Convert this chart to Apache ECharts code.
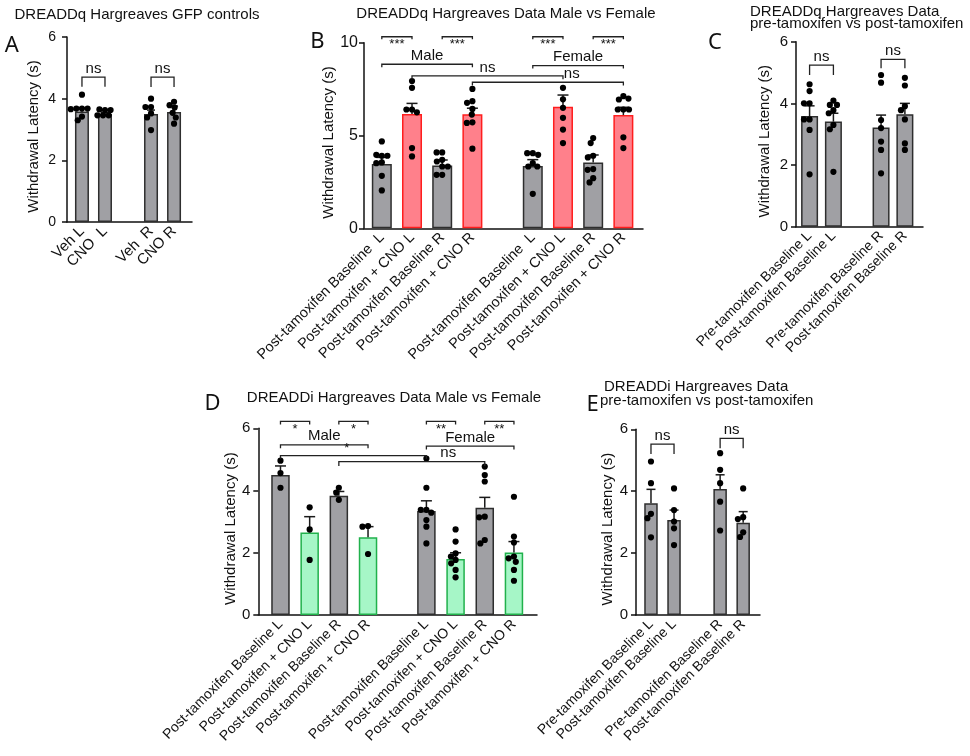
<!DOCTYPE html>
<html><head><meta charset="utf-8">
<script src="https://cdn.jsdelivr.net/npm/echarts@6/dist/echarts.min.js"></script>
<style>html,body{margin:0;padding:0;background:#fff}#c{width:970px;height:756px}</style>
</head><body><div id="c"></div>
<script>
// ================= DATA =================
// Panel A – DREADDq GFP controls
const aCats   = ['Veh L', 'CNO  L', '', 'Veh  R', 'CNO R'];
const aTreat  = ['Baseline', 'Baseline', '', 'Baseline', 'Baseline'];
const aMeans  = [3.58, 3.50, null, 3.50, 3.57];
const aSem    = [0.12, 0.05, null, 0.13, 0.19];
const aPoints = [
  [4.13, 3.68, 3.68, 3.68, 3.66, 3.42, 3.30],
  [3.63, 3.65, 3.63, 3.46, 3.46, 3.46],
  [],
  [4.00, 3.73, 3.73, 3.52, 3.39, 2.98],
  [3.90, 3.79, 3.71, 3.54, 3.39, 3.19]
];
const aBrackets = [ // [from, to, level, drop, text, place, labelX]
  [0, 1, 4.70, 0.31, 'ns', 'above'],
  [3, 4, 4.70, 0.32, 'ns', 'above']
];

// Panel B – DREADDq male vs female
const bCats  = ['Post-tamoxifen Baseline  L', 'Post-tamoxifen + CNO L', 'Post-tamoxifen Baseline R', 'Post-tamoxifen + CNO R', '',
                'Post-tamoxifen Baseline  L', 'Post-tamoxifen + CNO L', 'Post-tamoxifen Baseline R', 'Post-tamoxifen + CNO R'];
const bTreat = ['Baseline', 'CNO', 'Baseline', 'CNO', '', 'Baseline', 'CNO', 'Baseline', 'CNO'];
const bMeans = [3.46, 6.16, 3.38, 6.14, null, 3.36, 6.55, 3.55, 6.10];
const bSem   = [0.36, 0.57, 0.30, 0.33, null, 0.34, 0.63, 0.40, 0.42];
const bPoints = [
  [4.68, 3.91, 3.96, 3.91, 3.55, 3.51, 2.83, 2.04],
  [7.93, 7.57, 6.40, 6.40, 6.25, 4.32, 3.87],
  [4.09, 4.09, 3.69, 3.60, 3.33, 3.33, 2.88, 2.88],
  [7.51, 6.85, 6.76, 6.43, 6.13, 5.71, 5.68, 4.29],
  [],
  [4.05, 4.05, 3.96, 3.51, 3.33, 3.33, 1.86],
  [7.57, 6.95, 6.49, 5.95, 5.32, 4.59],
  [4.86, 4.59, 3.91, 3.82, 3.19, 3.15, 2.70, 2.47],
  [7.12, 6.94, 6.99, 6.40, 6.40, 6.40, 4.90, 4.32]
];
const bBrackets = [
  [0, 1, 10.32, 0.14, '***', 'below'],
  [2, 3, 10.32, 0.14, '***', 'below'],
  [5, 6, 10.32, 0.14, '***', 'below'],
  [7, 8, 10.32, 0.14, '***', 'below'],
  [0, 3, 8.84, 0.16, 'Male', 'above'],
  [5, 8, 8.77, 0.16, 'Female', 'above'],
  [1, 6, 8.21, 0.18, 'ns', 'above'],
  [3, 8, 7.87, 0.18, 'ns', 'above', 6.29]
];

// Panel C – DREADDq pre vs post tamoxifen
const cCats  = ['Pre-tamoxifen Baseline L', 'Post-tamoxifen Baseline L', '', 'Pre-tamoxifen Baseline R', 'Post-tamoxifen Baseline R'];
const cTreat = ['Baseline', 'Baseline', '', 'Baseline', 'Baseline'];
const cMeans = [3.59, 3.41, null, 3.22, 3.65];
const cSem   = [0.33, 0.27, null, 0.40, 0.35];
const cPoints = [
  [4.62, 4.40, 4.00, 4.00, 3.48, 3.48, 3.14, 1.70],
  [4.09, 3.95, 3.95, 3.78, 3.68, 3.30, 3.16, 1.78],
  [],
  [4.92, 4.67, 3.46, 3.20, 2.76, 2.49, 1.73],
  [4.83, 4.58, 3.91, 3.78, 3.48, 2.70, 2.49]
];
const cBrackets = [
  [0, 1, 5.24, 0.32, 'ns', 'above'],
  [3, 4, 5.43, 0.29, 'ns', 'above']
];

// Panel D – DREADDi male vs female
const dCats  = ['Post-tamoxifen Baseline L', 'Post-tamoxifen + CNO L', 'Post-tamoxifen Baseline R', 'Post-tamoxifen + CNO R', '',
                'Post-tamoxifen Baseline L', 'Post-tamoxifen + CNO L', 'Post-tamoxifen Baseline R', 'Post-tamoxifen + CNO R'];
const dTreat = ['Baseline', 'CNO', 'Baseline', 'CNO', '', 'Baseline', 'CNO', 'Baseline', 'CNO'];
const dMeans = [4.50, 2.65, 3.83, 2.50, null, 3.34, 1.80, 3.45, 2.01];
const dSem   = [0.29, 0.51, 0.14, 0.34, null, 0.33, 0.20, 0.33, 0.35];
const dPoints = [
  [4.96, 4.56, 4.09],
  [3.46, 2.75, 1.77],
  [4.09, 3.93, 3.70],
  [2.86, 2.84, 1.96],
  [],
  [5.03, 4.09, 3.38, 3.38, 3.29, 3.05, 2.84, 2.30],
  [2.75, 2.36, 1.98, 1.88, 1.77, 1.66, 1.45, 1.21],
  [4.77, 4.50, 4.29, 3.16, 3.14, 2.41, 2.30],
  [3.80, 2.52, 2.33, 1.88, 1.82, 1.71, 1.45, 1.10]
];
const dBrackets = [
  [0, 1, 6.22, 0.10, '*', 'below'],
  [2, 3, 6.22, 0.10, '*', 'below'],
  [5, 6, 6.22, 0.10, '**', 'below'],
  [7, 8, 6.22, 0.10, '**', 'below'],
  [0, 3, 5.47, 0.11, 'Male', 'above'],
  [5, 8, 5.43, 0.11, 'Female', 'above'],
  [0, 5, 5.12, 0.10, '*', 'above', 2.27],
  [2, 7, 4.93, 0.14, 'ns', 'above', 5.75]
];

// Panel E – DREADDi pre vs post tamoxifen
const eCats  = ['Pre-tamoxifen Baseline L', 'Post-tamoxifen Baseline L', '', 'Pre-tamoxifen Baseline R', 'Post-tamoxifen Baseline R'];
const eTreat = ['Baseline', 'Baseline', '', 'Baseline', 'Baseline'];
const eMeans = [3.61, 3.07, null, 4.07, 2.98];
const eSem   = [0.45, 0.32, null, 0.46, 0.36];
const ePoints = [
  [4.96, 4.26, 3.27, 3.13, 2.51],
  [4.09, 3.39, 3.02, 2.80, 2.26],
  [],
  [5.23, 4.69, 4.26, 3.66, 2.73],
  [4.09, 3.16, 3.10, 2.67, 2.52]
];
const eBrackets = [
  [0, 1, 5.52, 0.32, 'ns', 'above'],
  [3, 4, 5.71, 0.32, 'ns', 'above']
];

const yName = 'Withdrawal Latency (s)';

// ================= STYLE / LAYOUT =================
const FONT = "'Liberation Sans', Arial, sans-serif";
const GREY  = {fill: '#a0a0a4', stroke: '#2e2e2e'};
const RED   = {fill: '#ff808b', stroke: '#ff1e1e'};
const GREEN = {fill: '#a6f6c7', stroke: '#21b14c'};

const panels = [
  {cats: aCats, treat: aTreat, means: aMeans, sems: aSem, points: aPoints, brackets: aBrackets,
   grid: {left: 67, top: 37, width: 125, height: 185}, xMin: -0.65, xMax: 4.78, yMax: 6, yInt: 2,
   barW: 14, capW: 8, labelSize: 15, tickSize: 14, tickMargin: 11, nameGap: 26,
   palette: {Baseline: GREY, CNO: GREY}},
  {cats: bCats, treat: bTreat, means: bMeans, sems: bSem, points: bPoints, brackets: bBrackets,
   grid: {left: 364, top: 42.7, width: 279, height: 185.6}, xMin: -0.59, xMax: 8.65, yMax: 10, yInt: 5,
   barW: 20, capW: 11, labelSize: 14.5, tickSize: 16, tickMargin: 6, nameGap: 28,
   palette: {Baseline: GREY, CNO: RED}},
  {cats: cCats, treat: cTreat, means: cMeans, sems: cSem, points: cPoints, brackets: cBrackets,
   grid: {left: 796, top: 41.7, width: 127, height: 185}, xMin: -0.57, xMax: 4.76, yMax: 6, yInt: 2,
   barW: 17, capW: 10, labelSize: 14, tickSize: 15, tickMargin: 8, nameGap: 24,
   palette: {Baseline: GREY, CNO: GREY}},
  {cats: dCats, treat: dTreat, means: dMeans, sems: dSem, points: dPoints, brackets: dBrackets,
   grid: {left: 258.3, top: 428.3, width: 278.7, height: 186.7}, xMin: -0.76, xMax: 8.79, yMax: 6, yInt: 2,
   barW: 18.5, capW: 11, labelSize: 14, tickSize: 15, tickMargin: 8, nameGap: 15,
   palette: {Baseline: GREY, CNO: GREEN}},
  {cats: eCats, treat: eTreat, means: eMeans, sems: eSem, points: ePoints, brackets: eBrackets,
   grid: {left: 636, top: 429.3, width: 124, height: 185.7}, xMin: -0.65, xMax: 4.73, yMax: 6, yInt: 2,
   barW: 13.5, capW: 9, labelSize: 14, tickSize: 15, tickMargin: 8, nameGap: 21,
   palette: {Baseline: GREY, CNO: GREY}}
];

// simple beeswarm in pixel space
function swarm(ys, D) {
  const placed = [], xs = [];
  ys.forEach((y, i) => {
    const cands = [0];
    placed.forEach(p => {
      const dy = Math.abs(p.y - y);
      if (dy < D) { const w = Math.sqrt(D * D - dy * dy); cands.push(p.dx - w, p.dx + w); }
    });
    cands.sort((a, b) => Math.abs(a) - Math.abs(b));
    let chosen = 0;
    for (const c of cands) {
      let ok = true;
      for (const p of placed) {
        const dx = c - p.dx, dy = y - p.y;
        if (dx * dx + dy * dy < D * D - 0.05) { ok = false; break; }
      }
      if (ok) { chosen = c; break; }
    }
    placed.push({dx: chosen, y});
    xs[i] = chosen;
  });
  return xs;
}

const grids = [], xAxes = [], yAxes = [], series = [];
panels.forEach((P, k) => {
  grids.push(Object.assign({containLabel: false}, P.grid));
  const idxs = P.cats.map((c, i) => c ? i : -1).filter(i => i >= 0);
  xAxes.push({
    type: 'value', gridIndex: k, min: P.xMin, max: P.xMax,
    splitLine: {show: false}, axisTick: {show: false},
    axisLine: {show: true, onZero: false, lineStyle: {color: '#111', width: 1.5}},
    axisLabel: {customValues: idxs, formatter: v => P.cats[Math.round(v)], rotate: 45,
      fontSize: P.labelSize, fontFamily: FONT, color: '#111', margin: 7}
  });
  yAxes.push({
    type: 'value', gridIndex: k, min: 0, max: P.yMax, interval: P.yInt,
    splitLine: {show: false},
    axisLine: {show: true, onZero: false, lineStyle: {color: '#111', width: 1.5}},
    axisTick: {show: true, inside: false, length: 5, lineStyle: {color: '#111', width: 1.5}},
    axisLabel: {fontSize: P.tickSize, fontFamily: FONT, color: '#111', margin: P.tickMargin},
    name: yName, nameLocation: 'middle', nameGap: P.nameGap,
    nameTextStyle: {fontSize: 15, fontFamily: FONT, color: '#111', padding: [0, 14, 0, 0]}
  });
  // bars
  series.push({
    type: 'bar', xAxisIndex: k, yAxisIndex: k, barWidth: P.barW, z: 2, animation: false,
    data: idxs.map(i => ({value: [i, P.means[i]], itemStyle: {
      color: P.palette[P.treat[i]].fill, borderColor: P.palette[P.treat[i]].stroke, borderWidth: 1.5}}))
  });
  // error bars (mean + SEM)
  series.push({
    type: 'custom', xAxisIndex: k, yAxisIndex: k, z: 3, animation: false, clip: false,
    encode: {x: 0, y: 1},
    data: idxs.map(i => [i, P.means[i], P.sems[i]]),
    renderItem: (params, api) => {
      const i = api.value(0), m = api.value(1), s = api.value(2);
      const p0 = api.coord([i, m]), p1 = api.coord([i, m + s]);
      const st = {stroke: '#1a1a1a', lineWidth: 1.5};
      return {type: 'group', children: [
        {type: 'line', shape: {x1: p0[0], y1: p0[1], x2: p1[0], y2: p1[1]}, style: st},
        {type: 'line', shape: {x1: p1[0] - P.capW / 2, y1: p1[1], x2: p1[0] + P.capW / 2, y2: p1[1]}, style: st}
      ]};
    }
  });
  // individual points
  series.push({
    type: 'custom', xAxisIndex: k, yAxisIndex: k, z: 4, animation: false, clip: false,
    encode: {x: 0, y: 1},
    data: idxs.map(i => [i, Math.max.apply(null, P.points[i])]),
    renderItem: (params, api) => {
      const i = api.value(0);
      const vals = P.points[i];
      const cx = api.coord([i, 0])[0];
      const ys = vals.map(v => api.coord([i, v])[1]);
      const xs = swarm(ys, 5.6);
      return {type: 'group', children: ys.map((y, j) => ({
        type: 'circle', shape: {cx: cx + xs[j], cy: y, r: 3.1}, style: {fill: '#000'}
      }))};
    }
  });
  // significance brackets
  series.push({
    type: 'custom', xAxisIndex: k, yAxisIndex: k, z: 5, animation: false, clip: false,
    encode: {x: [0, 1], y: 2},
    data: P.brackets.map(b => [b[0], b[1], b[2], b[3]]),
    renderItem: (params, api) => {
      const b = P.brackets[params.dataIndex];
      const pa = api.coord([b[0], b[2]]), pb = api.coord([b[1], b[2]]);
      const yd = api.coord([b[0], b[2] - b[3]])[1];
      const lx = api.coord([b[6] != null ? b[6] : (b[0] + b[1]) / 2, b[2]])[0];
      const stars = /^\*+$/.test(b[4]);
      const below = b[5] === 'below';
      return {type: 'group', children: [
        {type: 'polyline', shape: {points: [[pa[0], yd], [pa[0], pa[1]], [pb[0], pb[1]], [pb[0], yd]]},
         style: {stroke: '#222', lineWidth: 1.3, fill: null}},
        {type: 'text', x: lx, y: below ? pa[1] + 1 : pa[1] - 1,
         style: {text: b[4], fontSize: stars ? 13 : 15, fontFamily: FONT, fill: '#111',
                 align: 'center', verticalAlign: below ? 'top' : 'bottom'}}
      ]};
    }
  });
});

function txt(text, x, y, size, align, family) {
  return {type: 'text', x: x, y: y, silent: true,
    style: {text: text, fontSize: size, fontFamily: family || FONT, fill: '#111',
            align: align || 'center', verticalAlign: 'middle'}};
}
const graphics = [
  txt('DREADDq Hargreaves GFP controls', 137, 15, 15),
  txt('DREADDq Hargreaves Data Male vs Female', 506, 14, 15),
  txt('DREADDq Hargreaves Data', 750, 11.5, 15, 'left'),
  txt('pre-tamoxifen vs post-tamoxifen', 750, 24, 15, 'left'),
  txt('DREADDi Hargreaves Data Male vs Female', 394, 398, 15),
  txt('DREADDi Hargreaves Data', 604, 387, 15, 'left'),
  txt('pre-tamoxifen vs post-tamoxifen', 600, 401, 15, 'left'),
  txt('A', 11.7, 45.7, 22, 'center', "'Noto Sans', sans-serif"),
  txt('B', 317.5, 41.7, 22, 'center', "'Noto Sans', sans-serif"),
  txt('C', 715, 42.5, 22, 'center', "'Noto Sans', sans-serif"),
  txt('D', 212.5, 404, 22, 'center', "'Noto Sans', sans-serif"),
  txt('E', 592.5, 405, 22, 'center', "'Noto Sans', sans-serif")
];

const chart = echarts.init(document.getElementById('c'), null, {renderer: 'canvas'});
chart.setOption({
  animation: false,
  backgroundColor: '#fff',
  grid: grids, xAxis: xAxes, yAxis: yAxes, series: series,
  graphic: graphics
});
</script></body></html>
